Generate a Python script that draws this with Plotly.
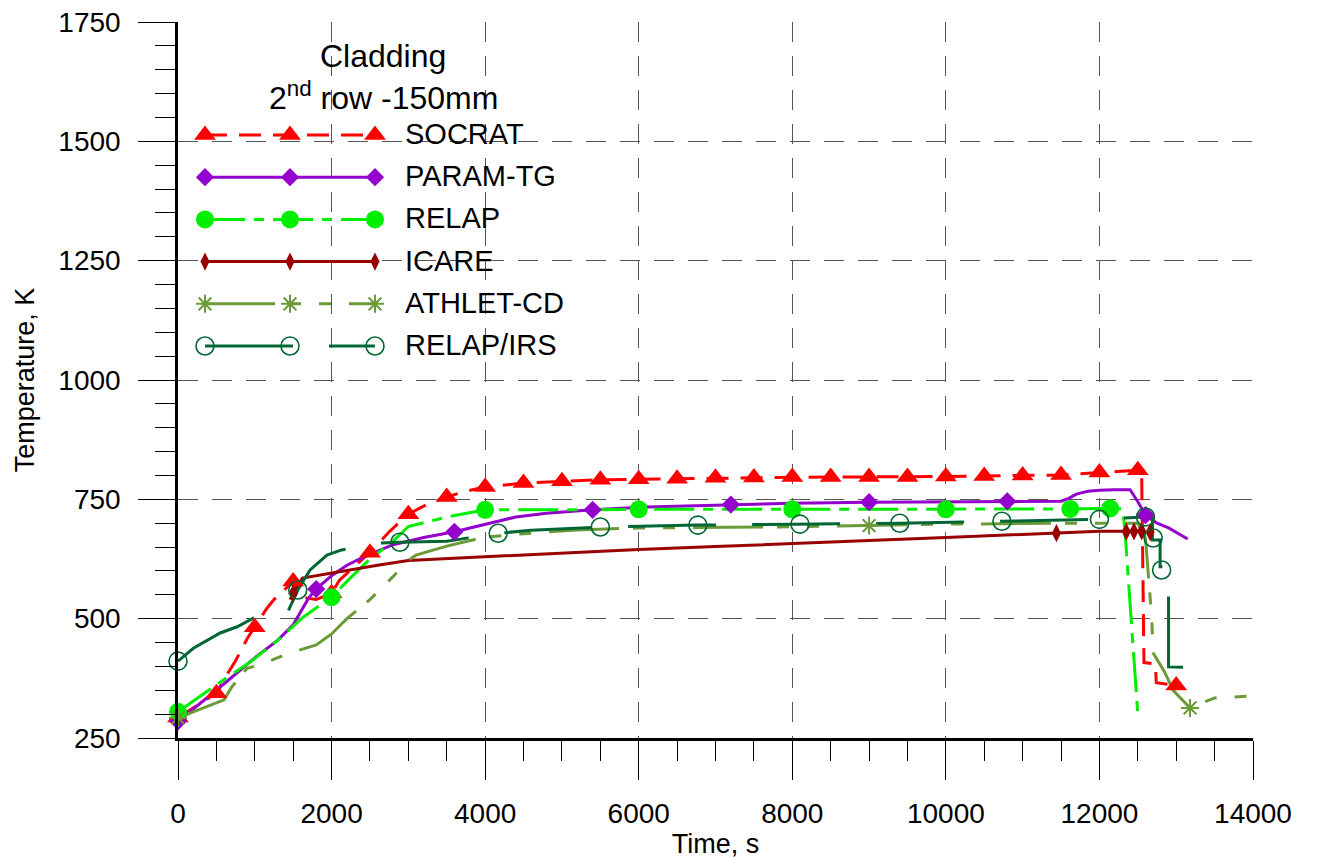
import plotly.graph_objects as go

# ---------------- data (time in s, temperature in K) ----------------
socrat_t = [0, 250, 500, 650, 750, 900, 1000, 1150, 1250, 1500, 1600, 1800, 2000, 2100, 2300,
            2500, 2750, 3000, 3250, 3500, 3750, 4000, 4500, 5000, 5500, 6000, 6500, 7000,
            7500, 8000, 8500, 9000, 9500, 10000, 10500, 11000, 11500, 12000, 12500, 12550,
            12570, 12580, 12730, 12740, 13000, 13050]
socrat_T = [293, 318, 344, 386, 412, 458, 482, 520, 540, 578, 545, 540, 553, 580, 610,
            638, 682, 719, 740, 755, 767, 776, 784, 788, 791, 792, 793, 795,
            796, 797, 797, 797, 797, 798, 799, 800, 801, 806, 811, 808,
            430, 408, 405, 366, 360, 360]
socrat_mk_t = [0, 500, 1000, 1500, 2000, 2500, 3000, 3500, 4000, 4500, 5000, 5500, 6000, 6500,
               7000, 7500, 8000, 8500, 9000, 9500, 10000, 10500, 11000, 11500, 12000, 12500, 13000]
socrat_mk_T = [293, 344, 482, 578, 553, 638, 719, 755, 776, 784, 788, 791, 792, 793,
               795, 796, 797, 797, 797, 797, 798, 799, 800, 801, 806, 811, 360]

param_t = [0, 500, 1000, 1300, 1500, 1600, 1700, 1800, 2000, 2200, 2400, 2800, 3200, 3600,
           4000, 4400, 4800, 5400, 6100, 7200, 8000, 9000, 10000, 11000, 11500, 11600, 11700,
           11850, 12000, 12200, 12400, 12500, 12600, 12750, 12900, 13150]
param_T = [285, 350, 418, 455, 487, 515, 543, 562, 590, 612, 628, 655, 670, 682,
           698, 713, 721, 728, 734, 739, 742, 744, 745, 746, 746, 752, 761,
           767, 769, 770, 770, 745, 717, 700, 690, 667]
param_mk_t = [0, 1800, 3600, 5400, 7200, 9000, 10800, 12600]
param_mk_T = [285, 562, 682, 728, 739, 744, 746, 717]

relap_t = [0, 550, 940, 1300, 1630, 2000, 2200, 2500, 2800, 3000, 3500, 4000, 5000, 6000,
           8000, 10000, 11600, 12000, 12300, 12330, 12500]
relap_T = [305, 367, 409, 455, 503, 545, 578, 625, 662, 693, 713, 728, 728, 729,
           729, 729, 730, 731, 730, 690, 300]
relap_mk_t = [0, 2000, 4000, 6000, 8000, 10000, 11620, 12140]
relap_mk_T = [305, 545, 728, 729, 729, 729, 730, 731]

icare_t = [1460, 1500, 1620, 2000, 2600, 3000, 4000, 5000, 6000, 7000, 8000, 9000, 10000,
           11000, 11500, 12000, 12500, 12700]
icare_T = [540, 553, 585, 596, 612, 622, 630, 637, 645, 651, 658, 664, 670,
           676, 680, 683, 683, 680]
icare_mk_t = [1500, 11440, 12350, 12450, 12550, 12660]
icare_mk_T = [553, 679, 682, 683, 683, 681]

athlet_t = [0, 400, 600, 700, 900, 1100, 1400, 1800, 2000, 2200, 2500, 2800, 3000, 3100,
            3500, 4000, 4500, 5200, 6000, 7700, 9000, 10000, 11600, 12500, 12600, 12680,
            12700, 12850, 12960, 13180, 13500, 14000]
athlet_T = [292, 318, 330, 357, 396, 405, 425, 445, 468, 500, 540, 588, 622, 633,
            652, 671, 678, 686, 690, 692, 695, 698, 700, 700, 668, 504,
            428, 388, 350, 313, 334, 338]
athlet_mk_t = [0, 9000, 13180]
athlet_mk_T = [292, 695, 313]

irs_t = [0, 200, 550, 770, 980, 1200, 1430, 1500, 1560, 1720, 1940, 2130, 2590, 2890, 3500,
         4170, 4600, 5500, 6770, 8000, 9400, 10700, 12000, 12600, 12690, 12690, 12790,
         12790, 12900, 12900, 13090]
irs_T = [411, 438, 470, 483, 501, 508, 514, 539, 560, 602, 633, 644, 658, 660, 662,
         679, 685, 692, 696, 698, 700, 704, 708, 713, 713, 665, 665,
         609, 609, 399, 398]
irs_mk_t = [0, 1560, 2890, 4170, 5500, 6770, 8100, 9400, 10730, 12000, 12600, 12700, 12810]
irs_mk_T = [411, 560, 660, 679, 692, 696, 698, 700, 704, 708, 713, 669, 602]

legend_names = ["SOCRAT", "PARAM-TG", "RELAP", "ICARE", "ATHLET-CD", "RELAP/IRS"]
x_ticks = [0, 2000, 4000, 6000, 8000, 10000, 12000, 14000]
y_ticks = [250, 500, 750, 1000, 1250, 1500, 1750]

# ---------------- styles ----------------
FONT = "Liberation Sans, Arial, sans-serif"
styles = [
    dict(color="#FF0000", dash="22px,12px", symbol="triangle-up", size=19, open=False),
    dict(color="#9400CC", dash="solid", symbol="diamond", size=14, open=False),
    dict(color="#00EE00", dash="40px,9px,10px,9px", symbol="circle", size=18, open=False),
    dict(color="#990000", dash="solid", symbol="diamond-tall", size=13, open=False),
    dict(color="#6B9B37", dash="70px,14px,12px,18px,12px,18px", symbol="asterisk-open", size=15, open=True),
    dict(color="#006633", dash="88px,36px", symbol="circle-open", size=18, open=True),
]
series = [
    (socrat_t, socrat_T, socrat_mk_t, socrat_mk_T),
    (param_t, param_T, param_mk_t, param_mk_T),
    (relap_t, relap_T, relap_mk_t, relap_mk_T),
    (icare_t, icare_T, icare_mk_t, icare_mk_T),
    (athlet_t, athlet_T, athlet_mk_t, athlet_mk_T),
    (irs_t, irs_T, irs_mk_t, irs_mk_T),
]

fig = go.Figure()


def marker_style(st):
    m = dict(symbol=st["symbol"], size=st["size"], color=st["color"])
    if st["open"]:
        m["line"] = dict(color=st["color"], width=2 if "asterisk" in st["symbol"] else 1.6)
    else:
        m["line"] = dict(width=0)
    return m


for (t, T, mt, mT), st in zip(series, styles):
    fig.add_trace(go.Scatter(x=t, y=T, mode="lines", showlegend=False,
                             line=dict(color=st["color"], width=3, dash=st["dash"]),
                             cliponaxis=False, hoverinfo="skip"))
for (t, T, mt, mT), st in zip(series, styles):
    fig.add_trace(go.Scatter(x=mt, y=mT, mode="markers", showlegend=False,
                             marker=marker_style(st), cliponaxis=False))

# ---------------- legend block (drawn on a pixel overlay axis) ----------------
LEG_X = [205, 290, 375]
LEG_Y0, LEG_DY = 135, 42.2
for i, (name, st) in enumerate(zip(legend_names, styles)):
    yy = LEG_Y0 + i * LEG_DY
    fig.add_trace(go.Scatter(x=[LEG_X[0], LEG_X[-1]], y=[yy, yy], mode="lines",
                             xaxis="x2", yaxis="y2", showlegend=False, hoverinfo="skip",
                             line=dict(color=st["color"], width=3, dash=st["dash"])))
    fig.add_trace(go.Scatter(x=LEG_X, y=[yy] * 3, mode="markers", xaxis="x2", yaxis="y2",
                             showlegend=False, hoverinfo="skip", marker=marker_style(st),
                             cliponaxis=False))
    fig.add_annotation(x=403, y=yy - 1, xref="x2", yref="y2", text=name, showarrow=False,
                       xanchor="left", yanchor="middle",
                       font=dict(family=FONT, size=29, color="black"))

fig.add_annotation(x=383, y=56, xref="x2", yref="y2", text="Cladding", showarrow=False,
                   xanchor="center", yanchor="middle", font=dict(family=FONT, size=32, color="black"))
fig.add_annotation(x=383, y=96, xref="x2", yref="y2", text="2<sup>nd</sup> row -150mm",
                   showarrow=False, xanchor="center", yanchor="middle",
                   font=dict(family=FONT, size=32, color="black"))

grid = dict(showgrid=True, gridcolor="#555555", gridwidth=1, griddash="20px,14px")

fig.update_layout(
    width=1318, height=861,
    margin=dict(l=178, r=65, t=22, b=123, autoexpand=False),
    paper_bgcolor="white", plot_bgcolor="white",
    showlegend=False,
    font=dict(family=FONT, size=27, color="black"),
    xaxis=dict(range=[0, 14000], tickvals=x_ticks, ticktext=[str(v) for v in x_ticks],
               ticks="outside", ticklen=39, tickwidth=1, tickcolor="black",
               minor=dict(dtick=500, ticks="outside", ticklen=20, tickwidth=1, tickcolor="black",
                          showgrid=False),
               showline=True, linecolor="black", linewidth=2.5, zeroline=False,
               ticklabelstandoff=10, automargin=False,
               title=dict(text="Time, s", standoff=6, font=dict(size=27)),
               tickfont=dict(size=28), **grid),
    yaxis=dict(range=[250, 1750], tickvals=y_ticks, ticktext=[str(v) for v in y_ticks],
               ticks="outside", ticklen=37, tickwidth=1, tickcolor="black",
               minor=dict(dtick=50, ticks="outside", ticklen=20, tickwidth=1, tickcolor="black",
                          showgrid=False),
               showline=True, linecolor="black", linewidth=2.5, zeroline=False,
               ticklabelstandoff=12, automargin=False,
               title=dict(text="Temperature, K", standoff=16, font=dict(size=27)),
               tickfont=dict(size=28), **grid),
    xaxis2=dict(range=[178, 1253], overlaying="x", visible=False, fixedrange=True),
    yaxis2=dict(range=[738, 22], overlaying="y", visible=False, fixedrange=True),
)

fig.write_html("out.html")
